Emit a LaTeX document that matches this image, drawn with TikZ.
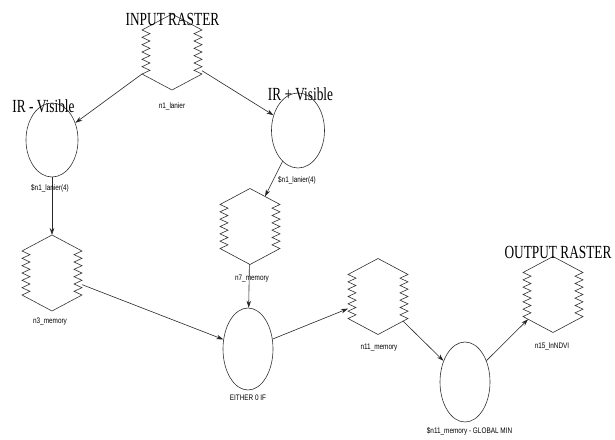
\documentclass[tikz,border=0pt]{standalone}
\usepackage{fontspec}
\usetikzlibrary{arrows.meta,shapes.geometric}
\newfontfamily\titlefont[FakeStretch=0.72]{Liberation Serif}
\newfontfamily\tagfont[FakeStretch=0.8]{Liberation Sans}

\makeatletter
% Raster block: a 60pt x 76pt hexagon whose vertical flanks are saw-toothed.
% The border anchor follows the hexagon, so connectors stop on its outline.
\def\sh@to#1#2{\pgfpathlineto{\pgfpoint{#1pt}{#2pt}}}
\pgfdeclareshape{sawhex}{%
  \anchor{center}{\pgfpointorigin}%
  \anchor{text}{\pgfpointorigin}%
  \anchor{north}{\pgfpoint{0pt}{38pt}}%
  \anchor{south}{\pgfpoint{0pt}{-38pt}}%
  \anchor{east}{\pgfpoint{30pt}{0pt}}%
  \anchor{west}{\pgfpoint{-30pt}{0pt}}%
  \anchorborder{%
    \edef\sh@dx{\pgf@sys@tonumber\pgf@x}%
    \edef\sh@dy{\pgf@sys@tonumber\pgf@y}%
    \pgfmathsetmacro\sh@t{min(30/max(abs(\sh@dx),0.01),38/(abs(\sh@dy)+0.53333*abs(\sh@dx)+0.0001))}%
    \pgfmathsetmacro\sh@px{\sh@t*(\sh@dx)}%
    \pgfmathsetmacro\sh@py{\sh@t*(\sh@dy)}%
    \pgfpoint{\sh@px pt}{\sh@py pt}%
  }%
  \backgroundpath{%
    \pgfpathmoveto{\pgfpoint{0pt}{38pt}}%
    \sh@to{30}{22}\sh@to{22}{18.333}\sh@to{30}{14.667}\sh@to{22}{11}%
    \sh@to{30}{7.333}\sh@to{22}{3.667}\sh@to{30}{0}\sh@to{22}{-3.667}%
    \sh@to{30}{-7.333}\sh@to{22}{-11}\sh@to{30}{-14.667}\sh@to{22}{-18.333}%
    \sh@to{30}{-22}%
    \sh@to{0}{-38}%
    \sh@to{-30}{-22}\sh@to{-22}{-18.333}\sh@to{-30}{-14.667}\sh@to{-22}{-11}%
    \sh@to{-30}{-7.333}\sh@to{-22}{-3.667}\sh@to{-30}{0}\sh@to{-22}{3.667}%
    \sh@to{-30}{7.333}\sh@to{-22}{11}\sh@to{-30}{14.667}\sh@to{-22}{18.333}%
    \sh@to{-30}{22}%
    \pgfpathclose
  }%
}
\makeatother

\tikzset{
  hexbox/.style={shape=sawhex, draw=black!80, line width=0.6pt},
  oval/.style={ellipse, draw=black!80, line width=0.6pt, inner sep=0pt},
  title/.style={font=\titlefont\fontsize{18.5}{20}\selectfont, inner sep=0pt, anchor=base},
  tag/.style={font=\tagfont\fontsize{8}{9}\selectfont, inner sep=0pt},
  flow/.style={draw=black!85, line width=0.6pt, -{Stealth[length=7pt,width=4.5pt]}},
}

\begin{document}
\begin{tikzpicture}[x=1pt, y=-1pt]
  \fill[white] (0,0) rectangle (615,439);
  \useasboundingbox (0,0) rectangle (615,439);

  % raster blocks
  \node[hexbox] (n1)  at (172,52)    {};
  \node[hexbox] (n3)  at (52,273)    {};
  \node[hexbox] (n7)  at (250,226.5) {};
  \node[hexbox] (n11) at (378,296.5) {};
  \node[hexbox] (n15) at (553,294.5) {};

  % operators
  \node[oval, minimum width=52pt, minimum height=74pt] (irm)    at (52,140)    {};
  \node[oval, minimum width=53pt, minimum height=75pt] (irp)    at (298,130.5) {};
  \node[oval, minimum width=50pt, minimum height=82pt] (either) at (248,349)   {};
  \node[oval, minimum width=50pt, minimum height=80pt] (gmin)   at (465,382)   {};

  % flow
  \draw[flow] (n1) -- (irm);
  \draw[flow] (n1) -- (irp);
  \draw[flow] (irm) -- (n3);
  \draw[flow] (irp) -- (n7);
  \draw[flow] (n3) -- (either);
  \draw[flow] (n7) -- (either);
  \draw[flow] (either) -- (n11);
  \draw[flow] (n11) -- (gmin);
  \draw[flow] (gmin) -- (n15);

  % headings
  \node[title] (tin)  at (172.5,25) {INPUT RASTER};
  \node[title] (tirm) at (43.5,112) {IR - Visible};
  \node[title] (tirp) at (300.5,100) {IR + Visible};
  \node[title] (tout) at (558,258)  {OUTPUT RASTER};

  % captions
  \node[tag] (c1) at (172,106)   {n1\_lanier};
  \node[tag] (c2) at (50,188.5)  {\$n1\_lanier(4)};
  \node[tag] (c3) at (297,180)   {\$n1\_lanier(4)};
  \node[tag] (c4) at (252,279)   {n7\_memory};
  \node[tag] (c5) at (50,322)    {n3\_memory};
  \node[tag] (c6) at (248,398)   {EITHER 0 IF};
  \node[tag] (c7) at (379,348)   {n11\_memory};
  \node[tag] (c8) at (469.5,431) {\$n11\_memory - GLOBAL MIN};
  \node[tag] (c9) at (552,346.5) {n15\_lnNDVI};
\end{tikzpicture}
\end{document}
